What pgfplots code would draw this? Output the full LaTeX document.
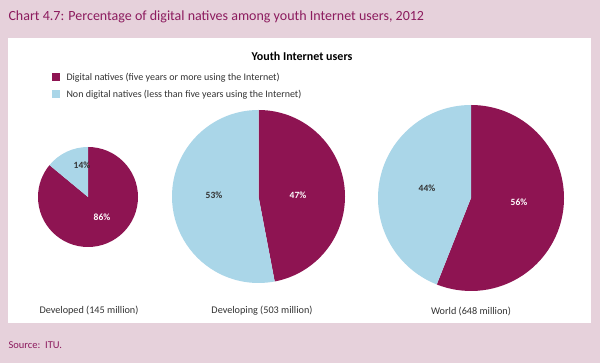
\documentclass[border=0pt]{standalone}
\usepackage{pgfplots}
\pgfplotsset{compat=1.18}
\usepackage{fontspec}
\setmainfont{Carlito}
\definecolor{bgpink}{HTML}{E6D1DB}
\definecolor{titlepurple}{HTML}{8C1B5E}
\definecolor{maroon}{HTML}{8E1452}
\definecolor{lightblue}{HTML}{AAD6E8}
\definecolor{txtgray}{HTML}{333333}
% pie: center x, center y, radius, digital share (%)
\newcommand{\piechart}[4]{%
  \fill[maroon] (axis cs:#1,#2) -- ++(90:#3pt) arc[start angle=90, end angle={90-3.6*#4}, radius=#3pt] -- cycle;
  \fill[lightblue] (axis cs:#1,#2) -- ++(90:#3pt) arc[start angle=90, end angle={90+3.6*(100-#4)}, radius=#3pt] -- cycle;
}
\begin{document}
\begin{tikzpicture}
\begin{axis}[width=600pt,height=363pt,scale only axis,
  xmin=0,xmax=600,ymin=0,ymax=363,y dir=reverse,
  hide axis,clip=false]
\fill[bgpink] (axis cs:0,0) rectangle (axis cs:600,363);
\fill[white] (axis cs:8,38) rectangle (axis cs:591,323);
\node[anchor=west,text=titlepurple,font=\fontsize{14}{16}\selectfont] at (axis cs:5,17) {Chart 4.7: Percentage of digital natives among youth Internet users, 2012};
\node[text=black,font=\bfseries\fontsize{12}{14}\selectfont] at (axis cs:302,56) {Youth Internet users};
% legend
\fill[maroon] (axis cs:52,73) rectangle (axis cs:60,81);
\node[anchor=west,text=txtgray,font=\fontsize{10}{12}\selectfont] at (axis cs:63,77.5) {Digital natives (five years or more using the Internet)};
\fill[lightblue] (axis cs:52,90) rectangle (axis cs:60,98);
\node[anchor=west,text=txtgray,font=\fontsize{10}{12}\selectfont] at (axis cs:63,94.5) {Non digital natives (less than five years using the Internet)};
% pies
\piechart{88}{197}{50}{86}
\piechart{258.5}{196.5}{86.5}{47}
\piechart{471}{198}{93}{56}
% slice labels
\node[text=txtgray,font=\bfseries\fontsize{9.5}{11}\selectfont] at (axis cs:82,165) {14\%};
\node[text=white,font=\bfseries\fontsize{9.5}{11}\selectfont] at (axis cs:102,217) {86\%};
\node[text=txtgray,font=\bfseries\fontsize{9.5}{11}\selectfont] at (axis cs:214,195) {53\%};
\node[text=white,font=\bfseries\fontsize{9.5}{11}\selectfont] at (axis cs:298,195) {47\%};
\node[text=txtgray,font=\bfseries\fontsize{9.5}{11}\selectfont] at (axis cs:427,188) {44\%};
\node[text=white,font=\bfseries\fontsize{9.5}{11}\selectfont] at (axis cs:519,202) {56\%};
% category labels
\node[text=txtgray,font=\fontsize{10.2}{12}\selectfont] at (axis cs:89,311) {Developed (145 million)};
\node[text=txtgray,font=\fontsize{10.2}{12}\selectfont] at (axis cs:262,311) {Developing (503 million)};
\node[text=txtgray,font=\fontsize{10.2}{12}\selectfont] at (axis cs:471,311) {World (648 million)};
\node[anchor=west,text=titlepurple,font=\fontsize{10.5}{12}\selectfont] at (axis cs:5,345) {Source:\ \ ITU.};
\end{axis}
\end{tikzpicture}
\end{document}
